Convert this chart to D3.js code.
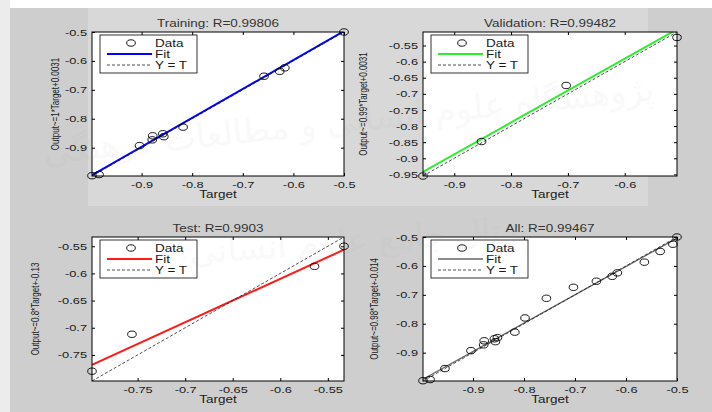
<!DOCTYPE html>
<html>
<head>
<meta charset="utf-8">
<script src="https://cdn.jsdelivr.net/npm/d3@7"></script>
<style>
	body { margin: 0; background: #fff; }
	svg { display: block; font-family: "Liberation Sans", Arial, sans-serif; }
</style>
</head>
<body>
<script>
// Values (Target on x, network Output on y)
const trainTarget = [-0.998, -0.984, -0.904, -0.879, -0.878, -0.858, -0.856, -0.818, -0.658, -0.627, -0.617, -0.500];
const trainOutput = [-0.997, -0.993, -0.893, -0.873, -0.859, -0.852, -0.862, -0.829, -0.653, -0.636, -0.624, -0.500];
const valTarget = [-0.955, -0.852, -0.703, -0.508];
const valOutput = [-0.955, -0.848, -0.674, -0.525];
const testTarget = [-0.798, -0.756, -0.564, -0.533];
const testOutput = [-0.780, -0.712, -0.587, -0.550];

const panelNames = ['Training', 'Validation', 'Test', 'All'];
const rValues = ['0.99806', '0.99482', '0.9903', '0.99467'];
const fitSlope = [1, 0.99, 0.8, 0.98];
const fitIntercept = [0.0031, 0.0031, -0.13, -0.014];

const xTicks = [
	[-0.9, -0.8, -0.7, -0.6, -0.5],
	[-0.9, -0.8, -0.7, -0.6],
	[-0.75, -0.7, -0.65, -0.6, -0.55],
	[-0.9, -0.8, -0.7, -0.6, -0.5]
];
const yTicks = [
	[-0.9, -0.8, -0.7, -0.6, -0.5],
	[-0.95, -0.9, -0.85, -0.8, -0.75, -0.7, -0.65, -0.6, -0.55],
	[-0.75, -0.7, -0.65, -0.6, -0.55],
	[-0.9, -0.8, -0.7, -0.6, -0.5]
];
const legendLabels = ['Data', 'Fit', 'Y = T'];
const watermarkLines = ['پژوهشگاه علوم انسانی و مطالعات فرهنگی', 'پرتال جامع علوم انسانی'];

// the scanned figure is stretched sideways, so text and markers get the same stretch
const SX = 1.35;
const cols = [[92, 344], [423, 677]];
const rows = [[32, 176], [237, 381]];
const yLabelX = [55, 363, 35, 374];
const fitColors = ['#0000ff', '#2cee2c', '#ff1a1a', '#666666'];

const svg = d3.select('body').append('svg')
	.attr('width', 712)
	.attr('height', 412);

// figure background
svg.append('rect').attr('width', 712).attr('height', 412).attr('fill', '#cecece');
svg.append('rect').attr('x', 88).attr('y', 0).attr('width', 560).attr('height', 206).attr('fill', '#d8d8d8');
svg.append('rect').attr('width', 712).attr('height', 8).attr('fill', '#ffffff');
svg.append('rect').attr('width', 10).attr('height', 412).attr('fill', '#ececec');

const panelData = [
	[trainTarget, trainOutput],
	[valTarget, valOutput],
	[testTarget, testOutput],
	[trainTarget.concat(valTarget, testTarget), trainOutput.concat(valOutput, testOutput)]
];

panelData.forEach(([targets, outputs], i) => {
	const [x0, x1] = cols[i % 2];
	const [y0, y1] = rows[Math.floor(i / 2)];
	const ext = d3.extent(targets.concat(outputs));

	const x = d3.scaleLinear().domain(ext).range([x0, x1]);
	const y = d3.scaleLinear().domain(ext).range([y1, y0]);

	const g = svg.append('g');

	// axes area
	g.append('rect')
		.attr('x', x0).attr('y', y0)
		.attr('width', x1 - x0).attr('height', y1 - y0)
		.attr('fill', '#fff');

	g.append('clipPath').attr('id', 'clip' + i)
		.append('rect')
		.attr('x', x0).attr('y', y0)
		.attr('width', x1 - x0).attr('height', y1 - y0);

	// ticks point inwards on all four sides
	const bottom = g.append('g')
		.attr('transform', 'translate(0,' + y1 + ')')
		.call(d3.axisBottom(x).tickValues(xTicks[i]).tickSize(-3).tickSizeOuter(0).tickPadding(5).tickFormat(d => String(d)));
	const left = g.append('g')
		.attr('transform', 'translate(' + x0 + ',0)')
		.call(d3.axisLeft(y).tickValues(yTicks[i]).tickSize(-3).tickSizeOuter(0).tickPadding(5).tickFormat(d => String(d)));
	g.append('g')
		.attr('transform', 'translate(0,' + y0 + ')')
		.call(d3.axisTop(x).tickValues(xTicks[i]).tickSize(-3).tickSizeOuter(0).tickFormat(''));
	g.append('g')
		.attr('transform', 'translate(' + x1 + ',0)')
		.call(d3.axisRight(y).tickValues(yTicks[i]).tickSize(-3).tickSizeOuter(0).tickFormat(''));

	g.selectAll('.domain').remove();
	g.selectAll('.tick line').attr('stroke', '#000');
	bottom.selectAll('text')
		.attr('font-size', '9.5px').attr('fill', '#1a1a1a')
		.attr('transform', 'scale(' + SX + ',1)');
	left.selectAll('text')
		.attr('font-size', '9.5px').attr('fill', '#1a1a1a')
		.attr('x', -5 / SX)
		.attr('transform', 'scale(' + SX + ',1)');

	// regression fit and the Y = T reference
	const plot = g.append('g').attr('clip-path', 'url(#clip' + i + ')');
	plot.append('path')
		.datum(ext)
		.attr('fill', 'none')
		.attr('stroke', fitColors[i])
		.attr('stroke-width', i === 3 ? 1.3 : 2)
		.attr('d', d3.line()
			.x(d => x(d))
			.y(d => y(fitSlope[i] * d + fitIntercept[i]))
		);
	plot.append('path')
		.datum(ext)
		.attr('fill', 'none')
		.attr('stroke', '#222')
		.attr('stroke-width', 0.8)
		.attr('stroke-dasharray', '3,2')
		.attr('d', d3.line().x(d => x(d)).y(d => y(d)));

	// data circles
	g.selectAll('.pt')
		.data(targets.map((t, k) => [t, outputs[k]]))
		.enter().append('ellipse')
		.attr('cx', d => x(d[0]))
		.attr('cy', d => y(d[1]))
		.attr('rx', 4.3).attr('ry', 3.2)
		.attr('fill', 'none')
		.attr('stroke', '#000')
		.attr('stroke-width', 0.9);

	// box
	g.append('rect')
		.attr('x', x0).attr('y', y0)
		.attr('width', x1 - x0).attr('height', y1 - y0)
		.attr('fill', 'none')
		.attr('stroke', '#000')
		.attr('stroke-width', 1);

	// Titles and labels
	const cx = (x0 + x1) / 2;
	g.append('text')
		.attr('transform', 'translate(' + cx + ',' + (y0 - 5) + ') scale(' + SX + ',1)')
		.attr('text-anchor', 'middle')
		.attr('font-size', '10px')
		.attr('fill', '#333')
		.text(panelNames[i] + ': R=' + rValues[i]);
	g.append('text')
		.attr('transform', 'translate(' + cx + ',' + (y1 + 22) + ') scale(' + SX + ',1)')
		.attr('text-anchor', 'middle')
		.attr('font-size', '10px')
		.attr('fill', '#1a1a1a')
		.text('Target');
	g.append('text')
		.attr('transform', 'translate(' + yLabelX[i] + ',' + ((y0 + y1) / 2) + ') scale(' + SX + ',1) rotate(-90)')
		.attr('text-anchor', 'middle')
		.attr('dy', '0.35em')
		.attr('font-size', '8px')
		.attr('fill', '#1a1a1a')
		.text('Output~=' + fitSlope[i] + '*Target+' + fitIntercept[i]);

	// legend
	const lx = x0 + 8, ly = y0 + 3;
	const leg = g.append('g');
	leg.append('rect')
		.attr('x', lx).attr('y', ly)
		.attr('width', 97).attr('height', 38)
		.attr('fill', '#fff')
		.attr('stroke', '#000')
		.attr('stroke-width', 0.8);
	const rowY = [8, 19, 30];
	leg.append('ellipse')
		.attr('cx', lx + 31).attr('cy', ly + rowY[0])
		.attr('rx', 4.3).attr('ry', 3.2)
		.attr('fill', 'none').attr('stroke', '#000').attr('stroke-width', 0.9);
	leg.append('line')
		.attr('x1', lx + 7).attr('x2', lx + 52)
		.attr('y1', ly + rowY[1]).attr('y2', ly + rowY[1])
		.attr('stroke', fitColors[i])
		.attr('stroke-width', i === 3 ? 1.3 : 2);
	leg.append('line')
		.attr('x1', lx + 7).attr('x2', lx + 52)
		.attr('y1', ly + rowY[2]).attr('y2', ly + rowY[2])
		.attr('stroke', '#222')
		.attr('stroke-width', 0.8)
		.attr('stroke-dasharray', '3,2');
	legendLabels.forEach((lab, k) => {
		leg.append('text')
			.attr('transform', 'translate(' + (lx + 55) + ',' + (ly + rowY[k] + 3.5) + ') scale(' + SX + ',1)')
			.attr('font-size', '10px')
			.attr('fill', '#1a1a1a')
			.text(lab);
	});
});

// faint watermark printed over the scan
svg.append('text')
	.attr('transform', 'translate(350,132) rotate(-6)')
	.attr('text-anchor', 'middle')
	.attr('font-family', 'DejaVu Sans')
	.attr('font-size', '34px')
	.attr('fill', '#999')
	.attr('opacity', 0.05)
	.text(watermarkLines[0]);
svg.append('text')
	.attr('transform', 'translate(360,252) rotate(-4)')
	.attr('text-anchor', 'middle')
	.attr('font-family', 'DejaVu Sans')
	.attr('font-size', '34px')
	.attr('fill', '#999')
	.attr('opacity', 0.05)
	.text(watermarkLines[1]);
</script>
</body>
</html>
